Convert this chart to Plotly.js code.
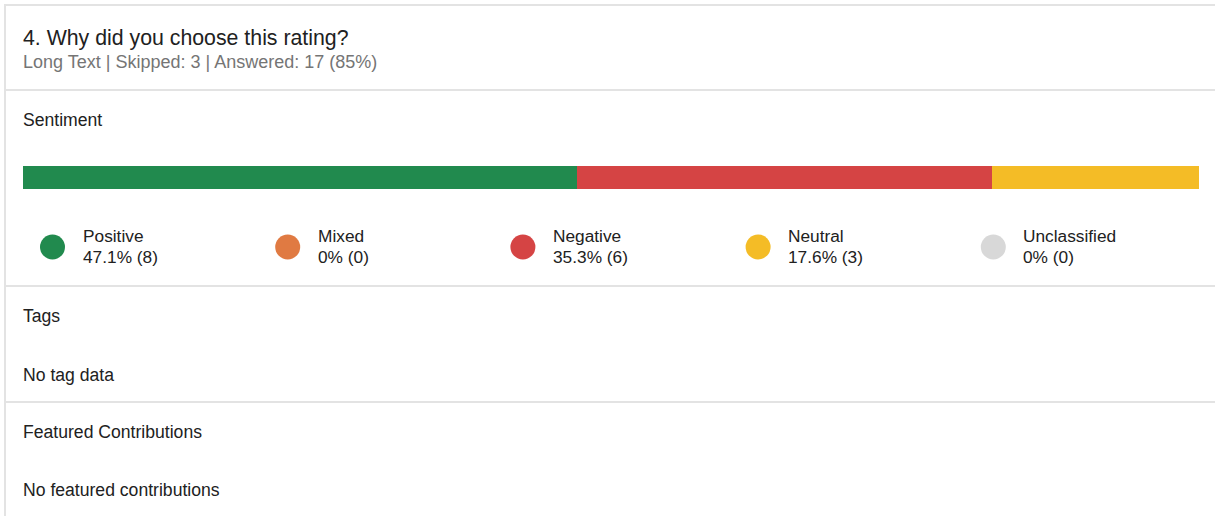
<!DOCTYPE html>
<html>
<head>
<meta charset="utf-8">
<script src="https://cdn.plot.ly/plotly-3.0.1.min.js"></script>
<style>
html,body{margin:0;padding:0;background:#fff;}
#chart{width:1215px;height:516px;}
</style>
</head>
<body>
<div id="chart"></div>
<script>
// ---- data ----
const categories = ["Positive", "Mixed", "Negative", "Neutral", "Unclassified"];
const percents = [47.1, 0, 35.3, 17.6, 0];
const counts = [8, 0, 6, 3, 0];
const percentLabels = ["47.1%", "0%", "35.3%", "17.6%", "0%"];
const colors = ["#218A4E", "#E07A42", "#D54444", "#F4BC26", "#D8D8D8"];

const questionTitle = "4. Why did you choose this rating?";
const questionMeta = "Long Text | Skipped: 3 | Answered: 17 (85%)";
const sections = ["Sentiment", "Tags", "No tag data", "Featured Contributions", "No featured contributions"];

// ---- layout helpers (pixels -> paper) ----
const W = 1215, H = 516;
const px = v => v / W;
const py = v => 1 - v / H;
const FONT = "Liberation Sans, Arial, sans-serif";
const TEXT = "#212121";

const traces = [];
// stacked bar
categories.forEach((c, i) => {
  traces.push({
    type: "bar", orientation: "h",
    x: [percents[i]], y: [0],
    marker: {color: colors[i], line: {width: 0}},
    width: 1, showlegend: false, hoverinfo: "skip",
    xaxis: "x", yaxis: "y"
  });
});
// legend markers
traces.push({
  type: "scatter", mode: "markers",
  x: categories.map((c, i) => i), y: categories.map(() => 0),
  marker: {color: colors, size: 25, line: {width: 0}},
  showlegend: false, hoverinfo: "skip",
  xaxis: "x2", yaxis: "y2"
});

const annotations = [];
categories.forEach((c, i) => {
  annotations.push({
    xref: "x2", yref: "y2", x: i, y: 0,
    xanchor: "left", yanchor: "middle", xshift: 28, yshift: 11,
    align: "left", showarrow: false, text: c,
    font: {family: FONT, size: 17.3, color: TEXT}
  });
  annotations.push({
    xref: "x2", yref: "y2", x: i, y: 0,
    xanchor: "left", yanchor: "middle", xshift: 28, yshift: -9.5,
    align: "left", showarrow: false,
    text: percentLabels[i] + " (" + counts[i] + ")",
    font: {family: FONT, size: 17.3, color: TEXT}
  });
});
const textRows = [
  {t: questionTitle, y: 37.5, s: 21.3, c: TEXT},
  {t: questionMeta, y: 62, s: 18, c: "#757575"},
  {t: sections[0], y: 120, s: 17.6, c: TEXT},
  {t: sections[1], y: 315.5, s: 17.6, c: TEXT},
  {t: sections[2], y: 374.5, s: 17.6, c: TEXT},
  {t: sections[3], y: 431.5, s: 17.6, c: TEXT},
  {t: sections[4], y: 489.5, s: 17.6, c: TEXT}
];
textRows.forEach(r => {
  annotations.push({
    xref: "paper", yref: "paper", x: px(23), y: py(r.y), xshift: -2,
    xanchor: "left", yanchor: "middle", showarrow: false, align: "left",
    text: r.t, font: {family: FONT, size: r.s, color: r.c}
  });
});

const lineColor = "#E3E3E3";
const shapes = [
  {type: "line", xref: "paper", yref: "paper", x0: px(4), x1: 1, y0: py(5), y1: py(5), line: {color: lineColor, width: 2}},
  {type: "line", xref: "paper", yref: "paper", x0: px(5), x1: px(5), y0: py(4), y1: 0, line: {color: lineColor, width: 2}},
  {type: "line", xref: "paper", yref: "paper", x0: px(4), x1: 1, y0: py(90), y1: py(90), line: {color: lineColor, width: 2}},
  {type: "line", xref: "paper", yref: "paper", x0: px(4), x1: 1, y0: py(286), y1: py(286), line: {color: lineColor, width: 2}},
  {type: "line", xref: "paper", yref: "paper", x0: px(4), x1: 1, y0: py(402), y1: py(402), line: {color: lineColor, width: 2}}
];

const colW = 1176 / 5;
const layout = {
  width: W, height: H,
  margin: {l: 0, r: 0, t: 0, b: 0, pad: 0},
  paper_bgcolor: "#fff", plot_bgcolor: "rgba(0,0,0,0)",
  barmode: "stack", bargap: 0,
  showlegend: false,
  xaxis: {domain: [px(23), px(1199)], range: [0, percents.reduce((a, b) => a + b, 0)], visible: false, fixedrange: true},
  yaxis: {domain: [py(189), py(166)], range: [-0.5, 0.5], visible: false, fixedrange: true},
  xaxis2: {domain: [px(23), px(1199)], range: [-29.5 / colW, 5 - 29.5 / colW], visible: false, fixedrange: true, anchor: "y2"},
  yaxis2: {domain: [py(262), py(232)], range: [-1, 1], visible: false, fixedrange: true, anchor: "x2"},
  annotations: annotations,
  shapes: shapes
};

Plotly.newPlot("chart", traces, layout, {displayModeBar: false, staticPlot: true});
</script>
</body>
</html>
